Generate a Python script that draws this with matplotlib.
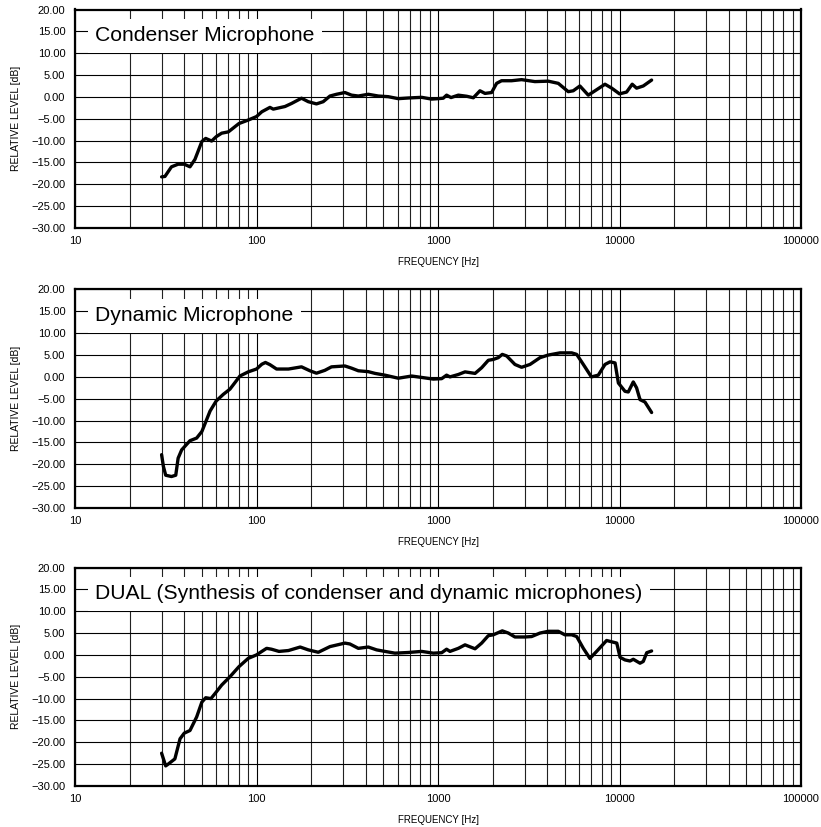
import matplotlib
matplotlib.use('Agg')
import matplotlib.pyplot as plt
from matplotlib.ticker import FixedLocator, NullFormatter, LogLocator

plt.rcParams['font.family'] = ['Liberation Sans', 'DejaVu Sans']

# ---------------- data ----------------
titles = ["Condenser Microphone",
          "Dynamic Microphone",
          "DUAL (Synthesis of condenser and dynamic microphones)"]

cond_f = [30, 31.3, 34, 37, 40, 43, 45.8, 50, 52.5, 56.6, 60, 64.3, 70, 80, 90, 100,
          107, 118.6, 123.7, 143.5, 156, 177, 193, 214, 233, 254, 276, 307, 334, 364,
          413, 469, 532, 604, 686, 813, 922, 1000, 1069, 1115, 1180, 1294, 1438, 1566,
          1703, 1815, 1974, 2103, 2240, 2542, 2888, 3420, 4050, 4600, 5220, 5560, 6050,
          6730, 7330, 8320, 9060, 10000, 10940, 11750, 12420, 13520, 15030]
cond_db = [-18.3, -18.2, -16.0, -15.4, -15.4, -16.0, -14.3, -10.2, -9.5, -10.1, -9.1,
           -8.3, -8.0, -6.1, -5.3, -4.5, -3.4, -2.4, -2.8, -2.2, -1.5, -0.3, -1.1, -1.6,
           -1.1, 0.2, 0.6, 1.0, 0.4, 0.2, 0.6, 0.2, 0.05, -0.4, -0.25, -0.1, -0.5, -0.4,
           -0.3, 0.4, -0.15, 0.4, 0.15, -0.2, 1.4, 0.8, 1.0, 3.1, 3.7, 3.7, 3.95, 3.5,
           3.6, 3.1, 1.2, 1.4, 2.5, 0.4, 1.4, 2.9, 2.0, 0.7, 1.1, 2.9, 2.0, 2.5, 3.85]

dyn_f = [30, 30.7, 31.6, 34, 35.9, 37, 38.7, 43, 46.8, 50, 55.5, 60, 65.6, 71.4, 76.1,
         81, 90, 100, 107, 112, 118.6, 129, 150, 177, 197, 214, 238, 259, 307, 334, 364,
         413, 450, 510, 604, 716, 942, 1048, 1115, 1164, 1294, 1409, 1600, 1740, 1893,
         2017, 2147, 2260, 2389, 2654, 2888, 3213, 3647, 4050, 4700, 5455, 5810, 6320,
         7000, 7640, 8320, 8870, 9450, 9860, 10720, 11180, 11910, 12420, 12970, 13810,
         15030]
dyn_db = [-17.8, -20.5, -22.5, -22.8, -22.5, -18.6, -16.7, -14.6, -14.0, -12.5, -7.8,
          -5.5, -4.0, -2.8, -1.3, 0.2, 1.15, 1.8, 2.9, 3.3, 2.8, 1.8, 1.8, 2.3, 1.4,
          0.85, 1.5, 2.3, 2.5, 2.0, 1.4, 1.2, 0.8, 0.4, -0.3, 0.2, -0.5, -0.4, 0.4, 0.0,
          0.55, 1.15, 0.8, 2.1, 3.8, 4.0, 4.4, 5.15, 4.8, 2.85, 2.2, 2.85, 4.4, 5.0, 5.5,
          5.5, 5.15, 2.85, 0.0, 0.4, 2.85, 3.45, 3.2, -1.4, -3.3, -3.45, -1.15, -2.5,
          -5.2, -5.75, -8.15]

dual_f = [30, 31.6, 32.6, 35.5, 37.9, 40, 43, 46.8, 50, 52.5, 56.1, 60, 64.3, 71.4, 80,
          90, 100, 107, 113.7, 121, 133, 150, 174, 193, 219, 254, 307, 327, 364, 413,
          459, 510, 579, 686, 813, 942, 1048, 1115, 1164, 1294, 1409, 1600, 1740, 1893,
          2017, 2260, 2440, 2654, 3013, 3280, 3647, 4050, 4600, 5000, 5455, 5810, 6320,
          6870, 7480, 8490, 9250, 9660, 10070, 10720, 11430, 11910, 12970, 13520, 14130,
          15030]
dual_db = [-22.5, -25.4, -25.0, -23.8, -19.2, -17.9, -17.3, -14.2, -10.8, -9.8, -10.0,
           -8.5, -6.9, -5.0, -2.7, -0.8, 0.0, 0.8, 1.5, 1.3, 0.8, 1.0, 1.8, 1.15, 0.6,
           1.9, 2.7, 2.5, 1.5, 1.8, 1.15, 0.8, 0.4, 0.55, 0.8, 0.4, 0.5, 1.3, 0.8, 1.5,
           2.3, 1.4, 2.7, 4.4, 4.6, 5.5, 5.0, 4.1, 4.1, 4.2, 5.0, 5.4, 5.4, 4.6, 4.6, 4.2,
           1.5, -0.8, 0.8, 3.3, 2.9, 2.7, -0.55, -1.15, -1.4, -1.0, -1.9, -1.5, 0.5, 0.9]

series = [(cond_f, cond_db), (dyn_f, dyn_db), (dual_f, dual_db)]

y_ticks = [20, 15, 10, 5, 0, -5, -10, -15, -20, -25, -30]
x_ticks = [10, 100, 1000, 10000, 100000]
x_tick_labels = ["10", "100", "1000", "10000", "100000"]
x_label = "FREQUENCY [Hz]"
y_label = "RELATIVE LEVEL [dB]"

# ---------------- figure ----------------
fig = plt.figure(figsize=(8.21, 8.27), dpi=100)
W, H = 821, 827
left_px, right_px = 75, 801
tops_px = [9.5, 289.5, 567.5]
h_px = 218.5

for i, ((f, db), title) in enumerate(zip(series, titles)):
    top = tops_px[i]
    ax = fig.add_axes([left_px / W, 1 - (top + h_px) / H,
                       (right_px - left_px) / W, h_px / H])
    ax.set_xscale('log')
    ax.set_xlim(10, 100000)
    ax.set_ylim(-30, 20)

    ax.xaxis.set_major_locator(FixedLocator(x_ticks))
    ax.set_xticklabels(x_tick_labels)
    ax.xaxis.set_minor_locator(LogLocator(base=10, subs=range(2, 10), numticks=20))
    ax.xaxis.set_minor_formatter(NullFormatter())
    ax.set_yticks(y_ticks)
    ax.set_yticklabels([f"{v:.2f}".replace('-', '\u2212') for v in y_ticks])

    ax.tick_params(which='both', length=0, labelsize=8, colors='black')
    ax.tick_params(axis='x', pad=6)
    ax.tick_params(axis='y', pad=7)

    ax.grid(which='major', axis='both', color='black', linewidth=0.8, zorder=1)
    ax.grid(which='minor', axis='x', color='#222222', linewidth=0.8, zorder=1)
    ax.set_axisbelow(True)

    for s in ax.spines.values():
        s.set_linewidth(1.6)
        s.set_color('black')

    ax.plot(f, db, color='black', linewidth=2.4, solid_joinstyle='round',
            solid_capstyle='round', zorder=3)

    ax.text(0.0275, 0.88, title, transform=ax.transAxes, fontsize=15.2,
            va='center', ha='left', zorder=4,
            bbox=dict(boxstyle='square,pad=0.35', facecolor='white',
                      edgecolor='none'))

    ax.set_xlabel(x_label, fontsize=7, labelpad=8)
    ax.set_ylabel(y_label, fontsize=7.5, labelpad=7)

fig.savefig('out.png', dpi=100)
